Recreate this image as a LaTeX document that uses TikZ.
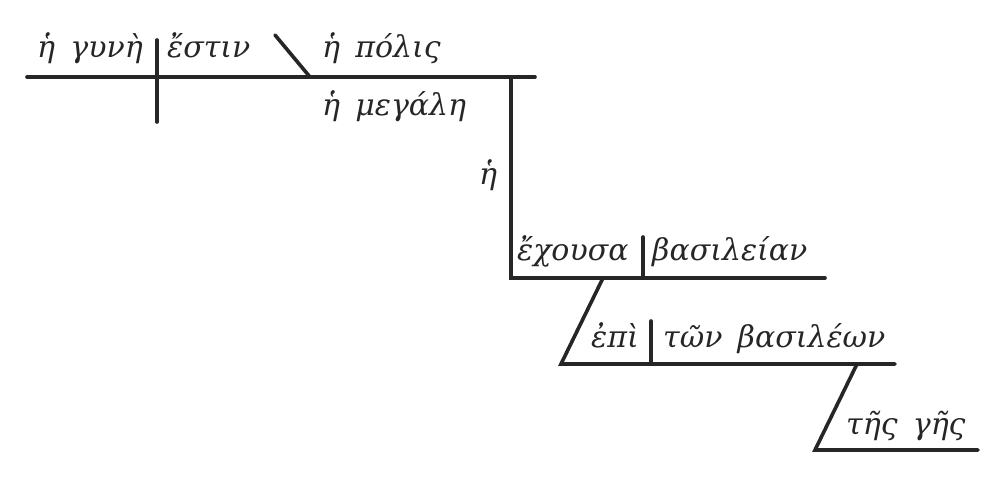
\documentclass[tikz,border=0pt]{standalone}
\usepackage{fontspec}
\newfontfamily\gk{DejaVu Serif}[WordSpace=1.6]
\begin{document}
\begin{tikzpicture}[x=1pt,y=-1pt,
  ln/.style={line width=3.6pt,color=black!85,line cap=round},
  wd/.style={font=\gk\itshape\fontsize{30}{34}\selectfont,anchor=base west,inner sep=0pt,text=black!85}]
\useasboundingbox (0,0) rectangle (1008,488);
% coordinates
\coordinate (a0) at (27,77);
\coordinate (a1) at (535,77);
\coordinate (d1t) at (157,40);
\coordinate (d1b) at (157,122);
\coordinate (s1t) at (275,35);
\coordinate (s1b) at (310,77);
\coordinate (v1t) at (511,77);
\coordinate (v1b) at (511,278);
\coordinate (b1) at (825,278);
\coordinate (d2t) at (643,237);
\coordinate (d2b) at (643,278);
\coordinate (s2t) at (603,278);
\coordinate (s2b) at (561,364);
\coordinate (b2) at (895,364);
\coordinate (d3t) at (651,321);
\coordinate (d3b) at (651,364);
\coordinate (s3t) at (857,364);
\coordinate (s3b) at (815,450);
\coordinate (b3) at (978,450);
% lines
\draw[ln] (a0) -- (a1);
\draw[ln] (d1t) -- (d1b);
\draw[ln] (s1t) -- (s1b);
\draw[ln] (v1t) -- (v1b) -- (b1);
\draw[ln] (d2t) -- (d2b);
\draw[ln] (s2t) -- (s2b) -- (b2);
\draw[ln] (d3t) -- (d3b);
\draw[ln] (s3t) -- (s3b) -- (b3);
% words
\node[wd] (w1) at (37,57) {ἡ γυνὴ};
\node[wd] (w2) at (167,57) {ἔστιν};
\node[wd] (w3) at (322,57) {ἡ πόλις};
\node[wd] (w4) at (322,115) {ἡ μεγάλη};
\node[wd] (w5) at (479,184) {ἡ};
\node[wd] (w6) at (517,260) {ἔχουσα};
\node[wd] (w7) at (652,260) {βασιλείαν};
\node[wd] (w8) at (591,347) {ἐπὶ};
\node[wd] (w9) at (663,347) {τῶν βασιλέων};
\node[wd] (w10) at (846,434) {τῆς γῆς};
\end{tikzpicture}
\end{document}
